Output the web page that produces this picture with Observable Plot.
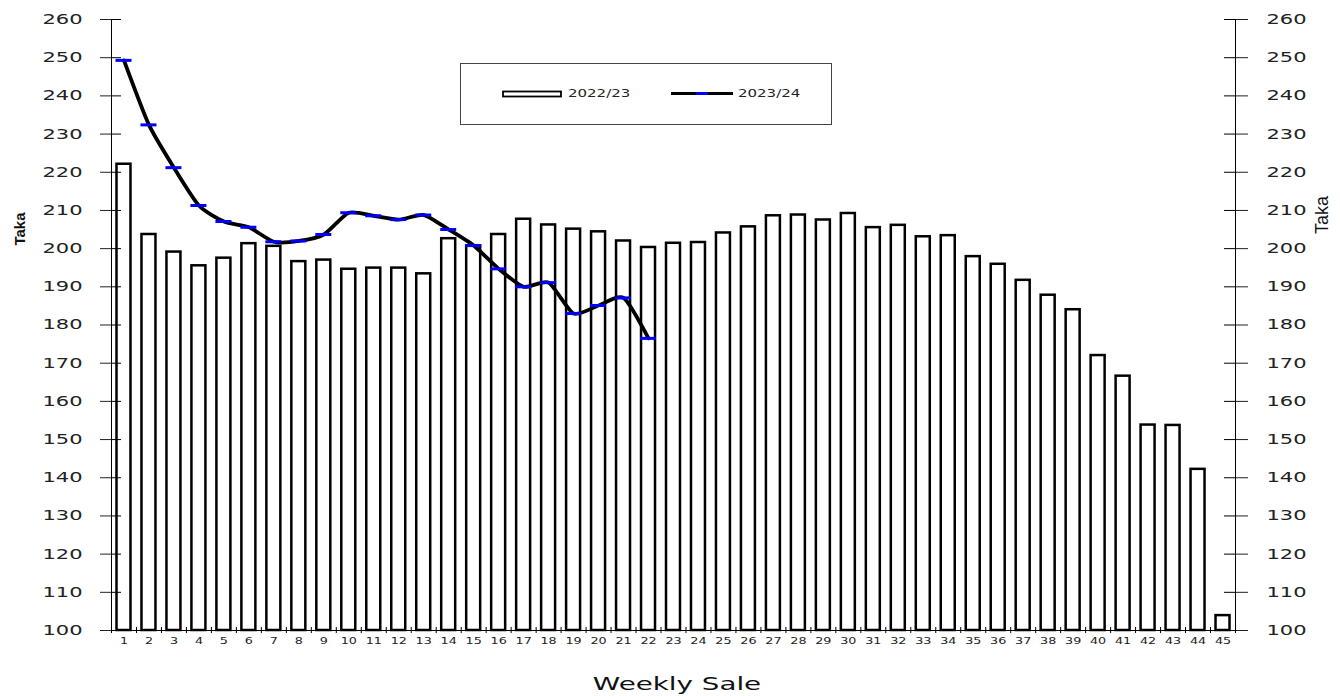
<!DOCTYPE html>
<html><head><meta charset="utf-8">
<script src="https://cdn.jsdelivr.net/npm/d3@7"></script>
<script src="https://cdn.jsdelivr.net/npm/@observablehq/plot@0.6"></script>
<style>
html,body{margin:0;padding:0;background:#fff;overflow:hidden;}
#wrap{position:relative;width:1340px;height:696px;}
#legend{position:absolute;left:460px;top:63px;width:370px;height:60px;border:1px solid #444;background:#fff;}
</style></head><body><div id="wrap"></div>
<script>
const weeks = [1,2,3,4,5,6,7,8,9,10,11,12,13,14,15,16,17,18,19,20,21,22,23,24,25,26,27,28,29,30,31,32,33,34,35,36,37,38,39,40,41,42,43,44,45];
const sales2022 = [222.1,203.7,199.1,195.5,197.5,201.3,200.6,196.6,197.0,194.6,
                   194.9,194.9,193.4,202.6,200.7,203.7,207.7,206.2,205.1,204.4,
                   202.0,200.3,201.4,201.6,204.1,205.7,208.6,208.8,207.5,209.2,
                   205.5,206.1,203.1,203.4,197.9,195.9,191.7,187.8,184.0,172.0,
                   166.6,153.8,153.7,142.2,103.9];
const weeks2023 = [1,2,3,4,5,6,7,8,9,10,11,12,13,14,15,16,17,18,19,20,21,22];
const sales2023 = [249.3,232.4,221.2,211.3,207.1,205.6,201.8,202.0,203.7,209.4,
                   208.6,207.6,208.8,205.0,200.8,194.7,190.0,191.1,183.0,185.1,
                   187.1,176.5];
const yTicks = [100,110,120,130,140,150,160,170,180,190,200,210,220,230,240,250,260];
const seriesNames = ["2022/23","2023/24"];
const xTitle = "Weekly Sale";
const yTitle = "Taka";

const W = 1340, H = 696, mL = 111, mR = 105, mT = 19, mB = 66;
const plotW = W - mL - mR;
const step = plotW / weeks.length;

const barData = weeks.map((w, i) => ({week: w, value: sales2022[i]}));
const lineData = weeks2023.map((w, i) => ({week: w, value: sales2023[i]}));

const chart = Plot.plot({
  width: W, height: H,
  marginLeft: mL, marginRight: mR, marginTop: mT, marginBottom: mB,
  style: {fontFamily: "DejaVu Sans", background: "white", overflow: "visible"},
  x: {type: "band", domain: weeks, paddingInner: 0.44, paddingOuter: 0.22, label: null},
  y: {domain: [100, 260], label: null},
  marks: [
    Plot.barY(barData, {x: "week", y1: 100, y2: "value", fill: "white", stroke: "black", strokeWidth: 2.5}),
    Plot.line(lineData, {x: "week", y: "value", stroke: "black", strokeWidth: 3.8, curve: "cardinal", tension: 0.35}),
    Plot.tickY(lineData, {x: "week", y: "value", stroke: "#0000ff", strokeWidth: 3, insetLeft: -1, insetRight: -1}),
    Plot.frame({anchor: "left", stroke: "black"}),
    Plot.frame({anchor: "right", stroke: "black"}),
    Plot.frame({anchor: "bottom", stroke: "black"}),
    Plot.tickY(yTicks, {y: d => d, stroke: "black", insetRight: plotW - 10}),
    Plot.tickY(yTicks, {y: d => d, stroke: "black", insetLeft: plotW - 11}),
    Plot.ruleX(weeks, {x: d => d, y1: 99.2, y2: 100.8, dx: -step / 2, stroke: "black"}),
    Plot.ruleX([weeks[weeks.length - 1]], {x: d => d, y1: 99.2, y2: 100.8, dx: step / 2, stroke: "black"}),
    Plot.axisY({anchor: "left", ticks: yTicks, tickSize: 11, tickPadding: 18, fontSize: 14, color: "#222", label: null}),
    Plot.axisY({anchor: "right", ticks: yTicks, tickSize: 12, tickPadding: 19, fontSize: 14, color: "#222", label: null}),
    Plot.axisX({ticks: weeks, tickSize: 0, tickPadding: 7, fontSize: 8.5, color: "#222", label: null})
  ]
});

document.getElementById("wrap").appendChild(chart);
const svg = d3.select(chart);

// horizontally stretched tick labels, as in the reference
svg.selectAll('g[aria-label$="tick label"] text').each(function() {
  const ax = +this.getAttribute("x") || 0;
  const t = this.getAttribute("transform") || "";
  this.setAttribute("transform", `${t} translate(${ax},0) scale(1.5,1) translate(${-ax},0)`);
});

// axis titles
svg.append("text").attr("transform", "translate(677,690) scale(1.5,1)")
  .attr("text-anchor", "middle").attr("font-size", 18.5).attr("fill", "#111")
  .attr("font-family", "DejaVu Sans").text(xTitle);
svg.append("text").attr("transform", "translate(19,229) rotate(-90)")
  .attr("text-anchor", "middle").attr("dominant-baseline", "central")
  .attr("font-size", 15).attr("font-weight", "bold")
  .attr("font-family", "Liberation Sans Narrow, Liberation Sans").attr("fill", "#111").text(yTitle);
svg.append("text").attr("transform", "translate(1322,215) rotate(-90)")
  .attr("text-anchor", "middle").attr("dominant-baseline", "central")
  .attr("font-size", 18)
  .attr("font-family", "Liberation Sans Narrow, Liberation Sans").attr("fill", "#111").text(yTitle);

// legend
const leg = d3.select("#wrap").append("div").attr("id", "legend");
const ls = leg.append("svg").attr("width", 370).attr("height", 60);
ls.append("rect").attr("x", 42).attr("y", 27.5).attr("width", 58).attr("height", 5)
  .attr("fill", "white").attr("stroke", "black").attr("stroke-width", 1.8);
ls.append("text").attr("transform", "translate(107,33) scale(1.5,1)").attr("font-size", 10)
  .attr("font-family", "DejaVu Sans").attr("fill", "#222").text(seriesNames[0]);
ls.append("line").attr("x1", 210).attr("x2", 272).attr("y1", 29.5).attr("y2", 29.5)
  .attr("stroke", "black").attr("stroke-width", 3);
ls.append("line").attr("x1", 235).attr("x2", 247).attr("y1", 29.5).attr("y2", 29.5)
  .attr("stroke", "#0000ff").attr("stroke-width", 3);
ls.append("text").attr("transform", "translate(277,33) scale(1.5,1)").attr("font-size", 10)
  .attr("font-family", "DejaVu Sans").attr("fill", "#222").text(seriesNames[1]);
</script>
</body></html>
